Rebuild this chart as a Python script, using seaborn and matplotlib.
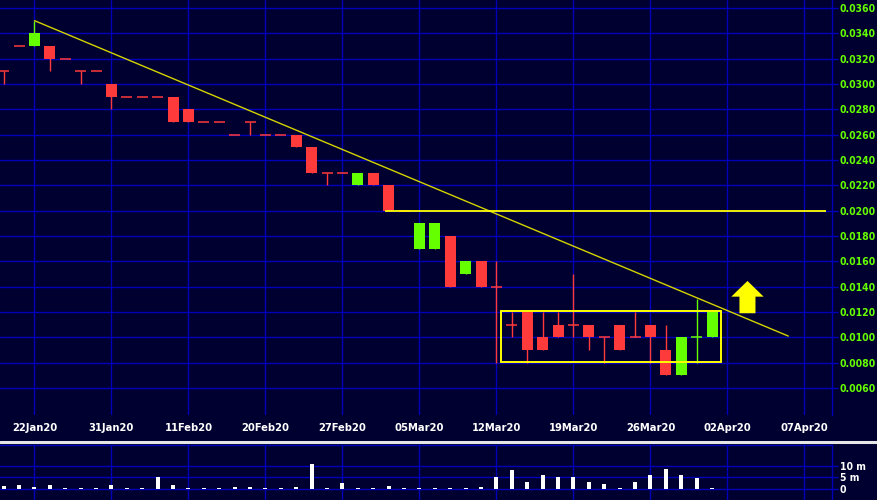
import matplotlib
matplotlib.use('Agg')
import matplotlib.pyplot as plt
from matplotlib.lines import Line2D
from matplotlib.patches import Rectangle, FancyArrow
import numpy as np
import pandas as pd
import seaborn as sns

# daily prices, one entry per trading day
day = list(range(47))
open_ = [0.031, 0.033, 0.033, 0.033, 0.032, 0.031, 0.031, 0.030, 0.029, 0.029,
         0.029, 0.029, 0.028, 0.027, 0.027, 0.026, 0.027, 0.026, 0.026, 0.026,
         0.025, 0.023, 0.023, 0.022, 0.023, 0.022, 0.020, 0.017, 0.017, 0.018,
         0.015, 0.016, 0.014, 0.011, 0.012, 0.010, 0.011, 0.011, 0.011, 0.010,
         0.011, 0.010, 0.011, 0.009, 0.007, 0.010, 0.010]
high = [0.031, 0.033, 0.035, 0.033, 0.032, 0.031, 0.031, 0.030, 0.029, 0.029,
        0.029, 0.029, 0.028, 0.027, 0.027, 0.026, 0.027, 0.026, 0.026, 0.026,
        0.025, 0.023, 0.023, 0.023, 0.023, 0.022, 0.020, 0.019, 0.019, 0.018,
        0.016, 0.016, 0.016, 0.012, 0.012, 0.012, 0.012, 0.015, 0.011, 0.010,
        0.011, 0.012, 0.011, 0.011, 0.010, 0.013, 0.012]
low = [0.030, 0.033, 0.033, 0.031, 0.032, 0.030, 0.031, 0.028, 0.029, 0.029,
       0.029, 0.027, 0.027, 0.027, 0.027, 0.026, 0.026, 0.026, 0.026, 0.025,
       0.023, 0.022, 0.023, 0.022, 0.022, 0.020, 0.020, 0.017, 0.017, 0.014,
       0.015, 0.014, 0.008, 0.010, 0.008, 0.009, 0.010, 0.010, 0.009, 0.008,
       0.009, 0.010, 0.008, 0.007, 0.007, 0.008, 0.010]
close = [0.031, 0.033, 0.034, 0.032, 0.032, 0.031, 0.031, 0.029, 0.029, 0.029,
         0.029, 0.027, 0.027, 0.027, 0.027, 0.026, 0.027, 0.026, 0.026, 0.025,
         0.023, 0.023, 0.023, 0.023, 0.022, 0.020, 0.020, 0.019, 0.019, 0.014,
         0.016, 0.014, 0.014, 0.011, 0.009, 0.009, 0.010, 0.011, 0.010, 0.010,
         0.009, 0.010, 0.010, 0.007, 0.010, 0.010, 0.012]
# volume in millions
volume = [1.3, 1.6, 1.0, 1.6, 0.4, 0.4, 0.4, 1.6, 0.4, 0.4,
          5.2, 1.7, 0.4, 0.4, 0.4, 1.0, 1.0, 0.4, 0.4, 1.0,
          10.9, 0.4, 2.7, 0.4, 0.4, 1.3, 0.4, 0.4, 0.4, 0.4,
          0.4, 1.0, 5.2, 8.3, 3.0, 6.1, 5.2, 5.2, 3.0, 2.2,
          0.4, 3.0, 6.1, 8.7, 6.1, 4.8, 0.4]
green_days = [2, 23, 27, 28, 30, 44, 45, 46]

tick_days = [2, 7, 12, 17, 22, 27, 32, 37, 42, 47, 52]
tick_labels = ['22Jan20', '31Jan20', '11Feb20', '20Feb20', '27Feb20', '05Mar20',
               '12Mar20', '19Mar20', '26Mar20', '02Apr20', '07Apr20']
price_ticks = [0.006, 0.008, 0.010, 0.012, 0.014, 0.016, 0.018, 0.020, 0.022,
               0.024, 0.026, 0.028, 0.030, 0.032, 0.034, 0.036]

# drawn annotations
trend_x = [2, 50.95]
trend_y = [0.035, 0.0101]
support = 0.020
box_days = [32.3, 46.6]
box_prices = [0.00803, 0.0121]

bg = '#000030'
grid_c = '#0000b8'
red = '#ff3a3a'
green = '#66ff00'
yellow = '#ffff00'

sns.set_style('dark', {'axes.facecolor': bg, 'figure.facecolor': bg,
                       'grid.color': grid_c, 'axes.edgecolor': grid_c})
plt.rcParams['font.family'] = ['DejaVu Sans']
plt.rcParams['font.stretch'] = 'condensed'

df = pd.DataFrame({'day': day, 'open': open_, 'high': high, 'low': low,
                   'close': close, 'volume': volume})
df['colour'] = np.where(df['day'].isin(green_days), green, red)

fig = plt.figure(figsize=(8.77, 5.0), dpi=100)
ax = fig.add_axes([0, 85 / 500, 832 / 877, 415 / 500])
axv = fig.add_axes([0, 0, 832 / 877, 55 / 500])

xlim = (-0.24, 53.79)

body = df[df['open'] != df['close']]
flat = df[df['open'] == df['close']]
ax.vlines(df['day'], df['low'], df['high'], colors=df['colour'], lw=1, zorder=3)
ax.bar(body['day'], body['close'] - body['open'], bottom=body['open'],
       width=0.71, color=body['colour'], lw=0, zorder=3)
ax.hlines(flat['close'], flat['day'] - 0.355, flat['day'] + 0.355,
          colors=flat['colour'], lw=1.1, zorder=3)

ax.plot(trend_x, trend_y, color='#d4d400', lw=1, zorder=4)
ax.hlines(support, 24.76, 53.4, color=yellow, lw=1.3, zorder=5)
ax.add_patch(Rectangle((box_days[0], box_prices[0]), box_days[1] - box_days[0],
                       box_prices[1] - box_prices[0], fill=False,
                       edgecolor=yellow, lw=1.4, zorder=4))
ax.add_patch(FancyArrow(48.3, 0.0119, 0, 0.00255, width=1.04, head_width=2.1,
                        head_length=0.00124, length_includes_head=True,
                        color=yellow, lw=0, zorder=5))

ax.set_xlim(*xlim)
ax.set_ylim(0.003867, 0.03663)
ax.set_xticks(tick_days)
ax.set_xticklabels(tick_labels)
ax.set_yticks(price_ticks)
ax.set_yticklabels([f'{p:.4f}' for p in price_ticks])
ax.yaxis.tick_right()
ax.grid(True, color=grid_c, lw=1)
ax.set_axisbelow(True)
ax.tick_params(axis='x', length=0, pad=6, labelcolor='white', labelsize=8)
ax.tick_params(axis='y', length=4, width=1, color=grid_c, pad=1.5,
               labelcolor=green, labelsize=7.5)
for lbl in ax.get_xticklabels() + ax.get_yticklabels():
    lbl.set_fontweight('bold')
    lbl.set_fontstretch('condensed')
for side in ['left', 'top', 'bottom']:
    ax.spines[side].set_visible(False)
ax.spines['right'].set_color(grid_c)
ax.spines['right'].set_linewidth(1)

# volume panel
sns.barplot(x=df['day'], y=df['volume'], native_scale=True, width=0.26,
            color='white', saturation=1, linewidth=0, ax=axv, zorder=3)
axv.set_xlim(*xlim)
axv.set_ylim(-4.8, 19.1)
axv.set_xlabel('')
axv.set_ylabel('')
axv.set_xticks(tick_days)
axv.set_xticklabels([])
axv.set_yticks([0, 5, 10])
axv.set_yticklabels(['0', '5 m', '10 m'])
axv.yaxis.tick_right()
axv.grid(True, color=grid_c, lw=1)
axv.set_axisbelow(True)
axv.tick_params(axis='x', length=0)
axv.tick_params(axis='y', length=4, width=1, color=grid_c, pad=1.5,
                labelcolor='white', labelsize=7.5)
for lbl in axv.get_yticklabels():
    lbl.set_fontweight('bold')
    lbl.set_fontstretch('condensed')
for side in ['left', 'bottom']:
    axv.spines[side].set_visible(False)
for side in ['right', 'top']:
    axv.spines[side].set_color(grid_c)
    axv.spines[side].set_linewidth(1)

fig.add_artist(Line2D([0, 1], [58 / 500, 58 / 500], color='#e6e6e6', lw=2.2))

fig.savefig('out.png', dpi=100, facecolor=bg)
